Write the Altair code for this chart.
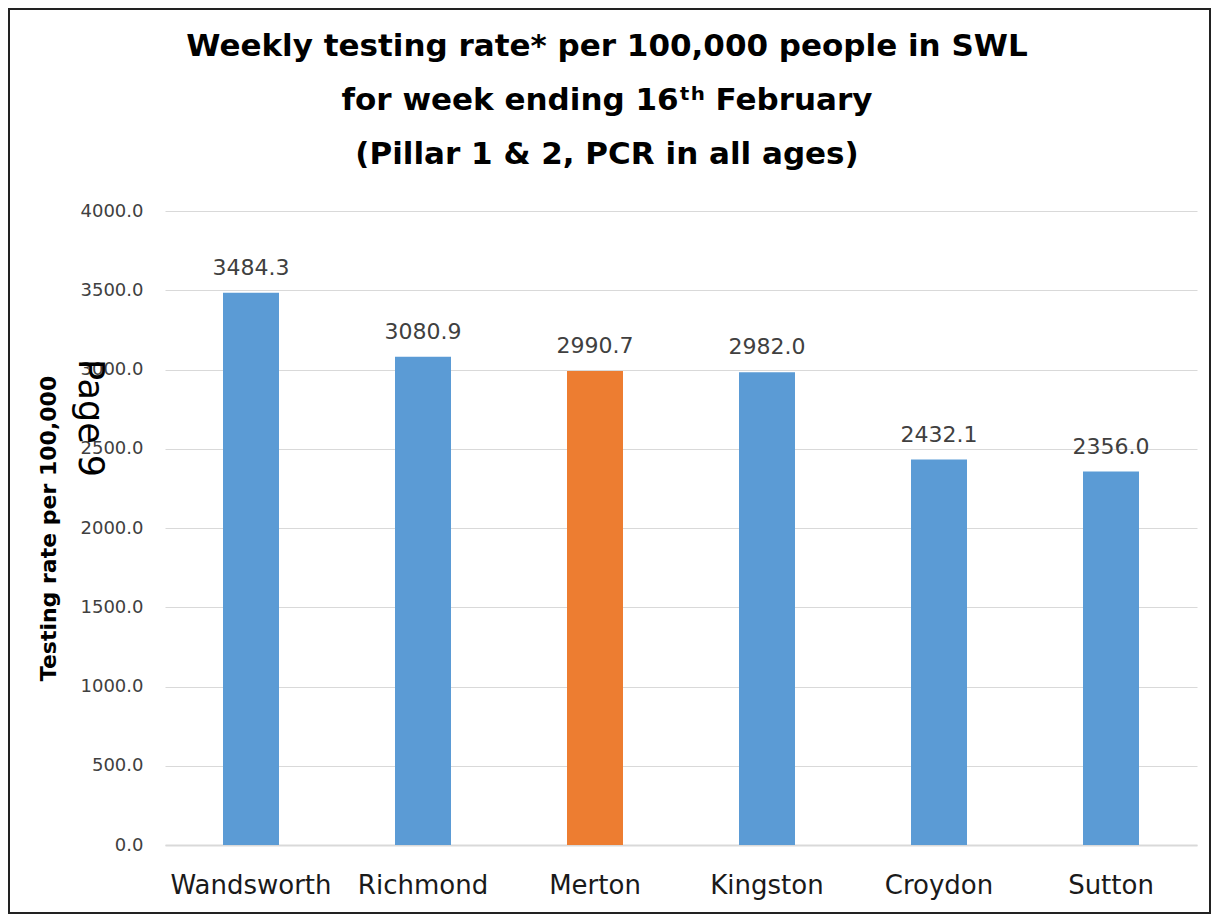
import altair as alt
import pandas as pd

categories = ["Wandsworth", "Richmond", "Merton", "Kingston", "Croydon", "Sutton"]
values = [3484.3, 3080.9, 2990.7, 2982.0, 2432.1, 2356.0]
highlight = "Merton"
title_lines = [
    "Weekly testing rate* per 100,000 people in SWL",
    "for week ending 16\u1d57\u02b0 February",
    "(Pillar 1 & 2, PCR in all ages)",
]
y_title = "Testing rate per 100,000"
page_note = ["Page 9"]

df = pd.DataFrame({
    "area": categories,
    "rate": values,
    "group": ["Highlight" if c == highlight else "Other" for c in categories],
})
note_df = pd.DataFrame({"note": page_note})

x_enc = alt.X("area:N", sort=None, title=None,
              axis=alt.Axis(labelAngle=0, labelFontSize=26, labelFont="DejaVu Sans",
                            labelColor="#1a1a1a", labelPadding=27, ticks=False, tickSize=0,
                            domainColor="#d9d9d9", domainWidth=2, grid=False))
y_enc = alt.Y("rate:Q", title=y_title,
              scale=alt.Scale(domain=[0, 4000]),
              axis=alt.Axis(values=list(range(0, 4001, 500)), format=".1f",
                            labelFontSize=18, labelFont="DejaVu Sans", labelColor="#404040",
                            labelPadding=22, ticks=False, tickSize=0, domain=False,
                            gridColor="#d9d9d9", gridWidth=1,
                            titleFont="DejaVu Sans", titleFontSize=22, titleFontWeight="bold",
                            titleColor="#000000", titlePadding=20))

bars = alt.Chart(df).mark_bar(size=56).encode(
    x=x_enc, y=y_enc,
    color=alt.Color("group:N", scale=alt.Scale(domain=["Other", "Highlight"],
                                               range=["#5b9bd5", "#ed7d31"]), legend=None),
)

labels = alt.Chart(df).mark_text(baseline="alphabetic", dy=-18, fontSize=22,
                                 font="DejaVu Sans", color="#404040").encode(
    x=alt.X("area:N", sort=None),
    y=alt.Y("rate:Q"),
    text=alt.Text("rate:Q", format=".1f"),
)

note = alt.Chart(note_df).mark_text(angle=90, fontSize=35, font="DejaVu Sans",
                                    color="#000000", align="center", baseline="middle").encode(
    text="note:N", x=alt.value(-75), y=alt.value(207))

title = alt.Chart(note_df).mark_text(fontSize=31, font="DejaVu Sans", fontWeight="bold",
                                     color="#000000", align="center", baseline="alphabetic",
                                     lineHeight=54).encode(
    text=alt.value(title_lines), x=alt.value(442), y=alt.value(-155))

border = alt.Chart(note_df).mark_rect(filled=False, stroke="#222222", strokeWidth=2).encode(
    x=alt.value(-156), x2=alt.value(1045), y=alt.value(-202), y2=alt.value(702))

chart = alt.layer(bars, labels, note, title, border).properties(
    width=1032, height=634,
    autosize=alt.AutoSizeParams(type="none"),
    padding={"left": 157, "top": 203, "right": 14, "bottom": 69},
).configure(background="white", view=alt.ViewConfig(stroke=None))

chart.save("out.html", embed_options={"renderer": "svg", "actions": False})
